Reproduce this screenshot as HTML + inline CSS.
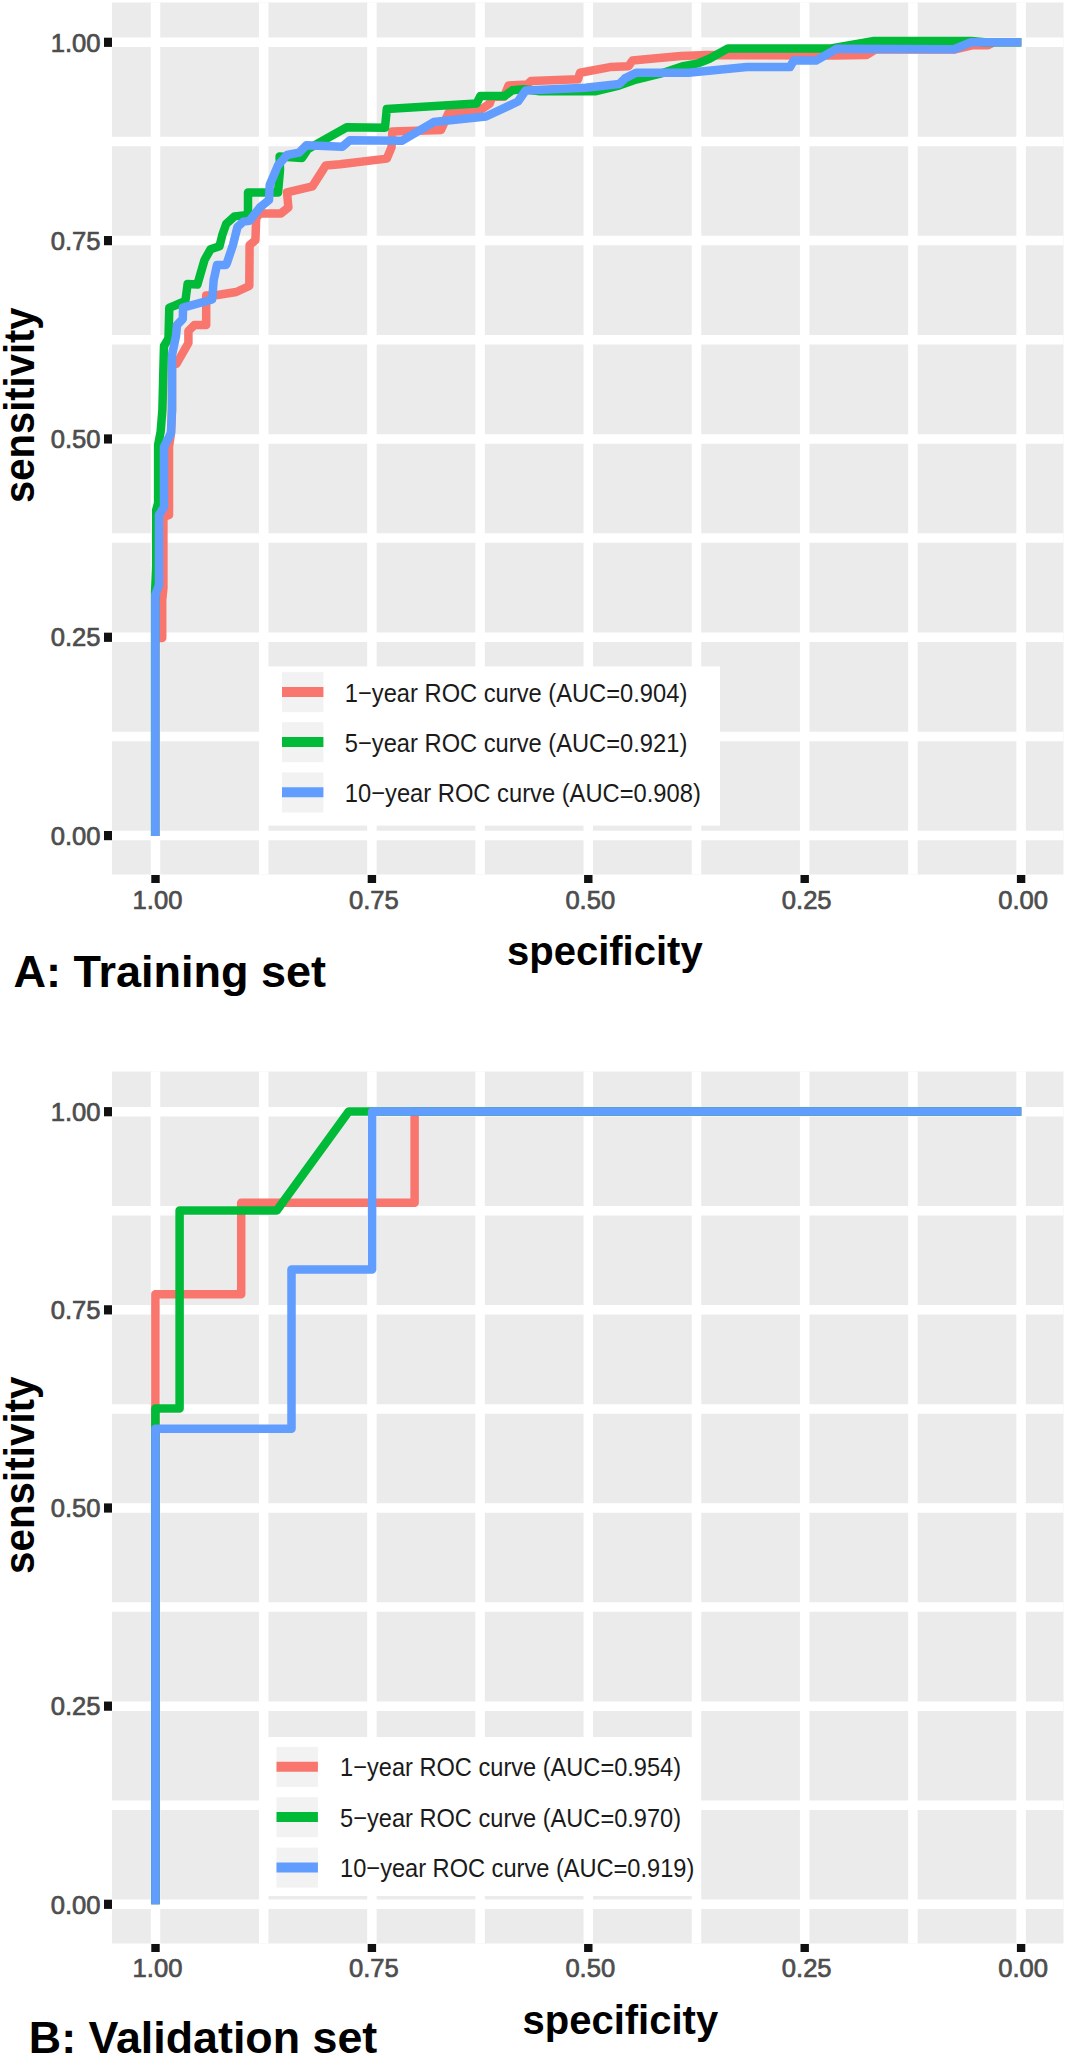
<!DOCTYPE html>
<html lang="en"><head><meta charset="utf-8"><title>ROC curves</title>
<style>
html,body{margin:0;padding:0;background:#fff;}
body{width:1068px;height:2056px;overflow:hidden;}
svg{display:block;}
text{font-family:"Liberation Sans",Arial,Helvetica,sans-serif;}
.tk{font-size:25.6px;fill:#4D4D4D;stroke:#4D4D4D;stroke-width:0.7px;}
.ax{font-size:40px;font-weight:bold;fill:#000;}
.ttl{font-size:45px;font-weight:bold;fill:#000;}
.lg{font-size:26px;fill:#1a1a1a;}
</style></head><body>
<svg width="1068" height="2056" viewBox="0 0 1068 2056">
<rect width="1068" height="2056" fill="#fff"/>
<rect x="112" y="2.5" width="951.5" height="872.0" fill="#EBEBEB"/>
<line x1="1021.10" x2="1021.10" y1="2.5" y2="874.5" stroke="#fff" stroke-width="9.5"/>
<line x1="112" x2="1063.5" y1="835.60" y2="835.60" stroke="#fff" stroke-width="9.5"/>
<line x1="912.90" x2="912.90" y1="2.5" y2="874.5" stroke="#fff" stroke-width="9.5"/>
<line x1="112" x2="1063.5" y1="736.44" y2="736.44" stroke="#fff" stroke-width="9.5"/>
<line x1="804.70" x2="804.70" y1="2.5" y2="874.5" stroke="#fff" stroke-width="9.5"/>
<line x1="112" x2="1063.5" y1="637.27" y2="637.27" stroke="#fff" stroke-width="9.5"/>
<line x1="696.50" x2="696.50" y1="2.5" y2="874.5" stroke="#fff" stroke-width="9.5"/>
<line x1="112" x2="1063.5" y1="538.11" y2="538.11" stroke="#fff" stroke-width="9.5"/>
<line x1="588.30" x2="588.30" y1="2.5" y2="874.5" stroke="#fff" stroke-width="9.5"/>
<line x1="112" x2="1063.5" y1="438.95" y2="438.95" stroke="#fff" stroke-width="9.5"/>
<line x1="480.10" x2="480.10" y1="2.5" y2="874.5" stroke="#fff" stroke-width="9.5"/>
<line x1="112" x2="1063.5" y1="339.79" y2="339.79" stroke="#fff" stroke-width="9.5"/>
<line x1="371.90" x2="371.90" y1="2.5" y2="874.5" stroke="#fff" stroke-width="9.5"/>
<line x1="112" x2="1063.5" y1="240.62" y2="240.62" stroke="#fff" stroke-width="9.5"/>
<line x1="263.70" x2="263.70" y1="2.5" y2="874.5" stroke="#fff" stroke-width="9.5"/>
<line x1="112" x2="1063.5" y1="141.46" y2="141.46" stroke="#fff" stroke-width="9.5"/>
<line x1="155.50" x2="155.50" y1="2.5" y2="874.5" stroke="#fff" stroke-width="9.5"/>
<line x1="112" x2="1063.5" y1="42.30" y2="42.30" stroke="#fff" stroke-width="9.5"/>
<rect x="112" y="1071.5" width="951.5" height="872.0" fill="#EBEBEB"/>
<line x1="1021.10" x2="1021.10" y1="1071.5" y2="1943.5" stroke="#fff" stroke-width="9.5"/>
<line x1="112" x2="1063.5" y1="1904.30" y2="1904.30" stroke="#fff" stroke-width="9.5"/>
<line x1="912.90" x2="912.90" y1="1071.5" y2="1943.5" stroke="#fff" stroke-width="9.5"/>
<line x1="112" x2="1063.5" y1="1805.22" y2="1805.22" stroke="#fff" stroke-width="9.5"/>
<line x1="804.70" x2="804.70" y1="1071.5" y2="1943.5" stroke="#fff" stroke-width="9.5"/>
<line x1="112" x2="1063.5" y1="1706.15" y2="1706.15" stroke="#fff" stroke-width="9.5"/>
<line x1="696.50" x2="696.50" y1="1071.5" y2="1943.5" stroke="#fff" stroke-width="9.5"/>
<line x1="112" x2="1063.5" y1="1607.08" y2="1607.08" stroke="#fff" stroke-width="9.5"/>
<line x1="588.30" x2="588.30" y1="1071.5" y2="1943.5" stroke="#fff" stroke-width="9.5"/>
<line x1="112" x2="1063.5" y1="1508.00" y2="1508.00" stroke="#fff" stroke-width="9.5"/>
<line x1="480.10" x2="480.10" y1="1071.5" y2="1943.5" stroke="#fff" stroke-width="9.5"/>
<line x1="112" x2="1063.5" y1="1408.92" y2="1408.92" stroke="#fff" stroke-width="9.5"/>
<line x1="371.90" x2="371.90" y1="1071.5" y2="1943.5" stroke="#fff" stroke-width="9.5"/>
<line x1="112" x2="1063.5" y1="1309.85" y2="1309.85" stroke="#fff" stroke-width="9.5"/>
<line x1="263.70" x2="263.70" y1="1071.5" y2="1943.5" stroke="#fff" stroke-width="9.5"/>
<line x1="112" x2="1063.5" y1="1210.78" y2="1210.78" stroke="#fff" stroke-width="9.5"/>
<line x1="155.50" x2="155.50" y1="1071.5" y2="1943.5" stroke="#fff" stroke-width="9.5"/>
<line x1="112" x2="1063.5" y1="1111.70" y2="1111.70" stroke="#fff" stroke-width="9.5"/>
<rect x="104" y="831.00" width="8" height="9.2" fill="#111"/>
<text class="tk" x="100.5" y="844.80" text-anchor="end">0.00</text>
<rect x="1016.90" y="875.0" width="8.4" height="8" fill="#111"/>
<text class="tk" x="1023.10" y="908.7" text-anchor="middle">0.00</text>
<rect x="104" y="632.67" width="8" height="9.2" fill="#111"/>
<text class="tk" x="100.5" y="646.48" text-anchor="end">0.25</text>
<rect x="800.50" y="875.0" width="8.4" height="8" fill="#111"/>
<text class="tk" x="806.70" y="908.7" text-anchor="middle">0.25</text>
<rect x="104" y="434.35" width="8" height="9.2" fill="#111"/>
<text class="tk" x="100.5" y="448.15" text-anchor="end">0.50</text>
<rect x="584.10" y="875.0" width="8.4" height="8" fill="#111"/>
<text class="tk" x="590.30" y="908.7" text-anchor="middle">0.50</text>
<rect x="104" y="236.03" width="8" height="9.2" fill="#111"/>
<text class="tk" x="100.5" y="249.82" text-anchor="end">0.75</text>
<rect x="367.70" y="875.0" width="8.4" height="8" fill="#111"/>
<text class="tk" x="373.90" y="908.7" text-anchor="middle">0.75</text>
<rect x="104" y="37.70" width="8" height="9.2" fill="#111"/>
<text class="tk" x="100.5" y="51.50" text-anchor="end">1.00</text>
<rect x="151.30" y="875.0" width="8.4" height="8" fill="#111"/>
<text class="tk" x="157.50" y="908.7" text-anchor="middle">1.00</text>
<rect x="104" y="1899.70" width="8" height="9.2" fill="#111"/>
<text class="tk" x="100.5" y="1913.50" text-anchor="end">0.00</text>
<rect x="1016.90" y="1944.0" width="8.4" height="8" fill="#111"/>
<text class="tk" x="1023.10" y="1977.2" text-anchor="middle">0.00</text>
<rect x="104" y="1701.55" width="8" height="9.2" fill="#111"/>
<text class="tk" x="100.5" y="1715.35" text-anchor="end">0.25</text>
<rect x="800.50" y="1944.0" width="8.4" height="8" fill="#111"/>
<text class="tk" x="806.70" y="1977.2" text-anchor="middle">0.25</text>
<rect x="104" y="1503.40" width="8" height="9.2" fill="#111"/>
<text class="tk" x="100.5" y="1517.20" text-anchor="end">0.50</text>
<rect x="584.10" y="1944.0" width="8.4" height="8" fill="#111"/>
<text class="tk" x="590.30" y="1977.2" text-anchor="middle">0.50</text>
<rect x="104" y="1305.25" width="8" height="9.2" fill="#111"/>
<text class="tk" x="100.5" y="1319.05" text-anchor="end">0.75</text>
<rect x="367.70" y="1944.0" width="8.4" height="8" fill="#111"/>
<text class="tk" x="373.90" y="1977.2" text-anchor="middle">0.75</text>
<rect x="104" y="1107.10" width="8" height="9.2" fill="#111"/>
<text class="tk" x="100.5" y="1120.90" text-anchor="end">1.00</text>
<rect x="151.30" y="1944.0" width="8.4" height="8" fill="#111"/>
<text class="tk" x="157.50" y="1977.2" text-anchor="middle">1.00</text>
<polyline points="155.3,836.0 155.3,638.0 162.2,638.0 162.2,600.0 163.4,588.0 163.4,517.0 169.0,515.0 169.0,447.0 171.0,433.0 172.0,410.0 172.0,364.0 176.4,364.0 188.4,343.0 188.4,331.0 194.4,325.0 206.2,325.0 206.2,295.6 217.5,295.0 236.2,292.0 249.3,286.0 249.6,245.0 255.4,240.3 256.2,218.0 260.0,213.4 281.0,213.4 288.4,207.4 287.0,192.4 312.4,186.4 325.8,165.4 340.0,164.2 386.8,158.6 391.5,147.4 392.4,131.5 441.0,130.0 448.6,112.7 480.4,110.0 489.8,103.4 492.0,96.8 504.0,96.8 508.5,85.6 527.3,84.6 531.0,80.9 578.0,79.3 580.0,72.7 610.0,67.1 628.6,66.2 632.4,60.6 651.0,58.7 681.0,55.9 707.3,55.0 835.0,55.5 866.7,55.0 875.0,49.6 954.0,49.6 972.0,45.3 988.0,45.3 994.0,42.3 1021.3,42.3" fill="none" stroke="#F8766D" stroke-width="8.5" stroke-linejoin="round" stroke-linecap="butt"/>
<polyline points="155.1,836.0 155.1,592.0 156.2,566.0 156.2,510.0 158.1,503.0 158.1,445.0 160.6,432.0 162.4,410.0 163.2,377.0 164.0,346.0 168.5,338.4 169.3,307.7 175.0,305.5 185.4,301.0 187.6,284.0 197.4,284.5 204.5,260.0 210.5,249.3 219.5,246.3 222.5,234.3 226.2,223.9 234.5,216.4 248.0,214.9 248.0,192.4 278.0,192.4 280.0,170.0 279.6,156.5 302.0,158.0 308.0,149.0 346.8,127.2 385.0,127.7 386.8,109.0 476.7,103.4 480.4,95.9 504.8,95.9 512.3,90.3 523.5,89.3 540.0,91.2 596.0,91.2 619.0,85.6 636.0,79.6 660.4,73.7 682.0,66.5 698.0,63.4 709.4,58.7 728.0,48.4 831.0,48.4 874.0,40.9 971.0,40.9 985.0,42.3 1021.3,42.3" fill="none" stroke="#00BA38" stroke-width="8.5" stroke-linejoin="round" stroke-linecap="butt"/>
<polyline points="155.3,836.0 155.3,595.0 159.0,585.0 159.0,515.0 164.0,507.0 164.0,447.0 171.0,433.0 172.0,410.0 172.0,355.0 176.0,336.0 177.0,325.0 182.8,319.0 183.0,307.7 212.2,299.5 213.7,280.0 217.0,265.0 226.0,265.0 227.0,262.8 233.0,244.8 237.5,226.9 243.4,221.6 249.4,220.9 260.0,207.4 269.0,200.0 269.7,185.0 278.0,165.4 287.0,155.0 299.0,152.7 306.4,145.2 342.3,146.7 349.8,140.3 401.8,140.8 433.6,122.1 486.0,116.5 518.0,101.5 525.6,90.5 585.5,87.7 619.3,84.0 624.9,78.4 636.1,72.7 688.5,72.7 746.8,67.1 790.0,67.1 793.6,60.6 816.0,60.6 836.7,48.8 954.0,49.2 971.0,42.3 1021.3,42.3" fill="none" stroke="#619CFF" stroke-width="8.5" stroke-linejoin="round" stroke-linecap="butt"/>
<polyline points="155.4,1904.3 155.4,1294.3 241.2,1294.3 241.2,1202.7 414.6,1202.7 414.6,1111.5 1021.3,1111.5" fill="none" stroke="#F8766D" stroke-width="8.5" stroke-linejoin="round" stroke-linecap="butt"/>
<polyline points="155.4,1904.3 155.4,1408.5 179.6,1408.5 179.6,1210.6 276.8,1210.6 348.7,1111.5 1021.3,1111.5" fill="none" stroke="#00BA38" stroke-width="8.5" stroke-linejoin="round" stroke-linecap="butt"/>
<polyline points="155.4,1904.3 155.4,1428.8 291.5,1428.8 291.5,1269.4 372.1,1269.4 372.1,1111.5 1021.3,1111.5" fill="none" stroke="#619CFF" stroke-width="8.5" stroke-linejoin="round" stroke-linecap="butt"/>
<rect x="267.6" y="666.4" width="452.4" height="159.20000000000005" fill="#fff"/>
<rect x="282" y="672.2" width="41.4" height="40" fill="#F2F2F2"/>
<line x1="282" x2="323.4" y1="692.0" y2="692.0" stroke="#F8766D" stroke-width="10"/>
<text class="lg" x="344.8" y="701.5" textLength="342.5" lengthAdjust="spacingAndGlyphs">1−year ROC curve (AUC=0.904)</text>
<rect x="282" y="722.2" width="41.4" height="40" fill="#F2F2F2"/>
<line x1="282" x2="323.4" y1="742.0" y2="742.0" stroke="#00BA38" stroke-width="10"/>
<text class="lg" x="344.8" y="751.7" textLength="342.5" lengthAdjust="spacingAndGlyphs">5−year ROC curve (AUC=0.921)</text>
<rect x="282" y="772.5" width="41.4" height="40" fill="#F2F2F2"/>
<line x1="282" x2="323.4" y1="792.3" y2="792.3" stroke="#619CFF" stroke-width="10"/>
<text class="lg" x="344.8" y="802" textLength="356" lengthAdjust="spacingAndGlyphs">10−year ROC curve (AUC=0.908)</text>
<rect x="262" y="1737" width="438.5" height="159" fill="#fff"/>
<rect x="276.5" y="1746.9" width="41.4" height="40" fill="#F2F2F2"/>
<line x1="276.5" x2="317.9" y1="1766.7" y2="1766.7" stroke="#F8766D" stroke-width="10"/>
<text class="lg" x="340.1" y="1776.2" textLength="341" lengthAdjust="spacingAndGlyphs">1−year ROC curve (AUC=0.954)</text>
<rect x="276.5" y="1797.2" width="41.4" height="40" fill="#F2F2F2"/>
<line x1="276.5" x2="317.9" y1="1817.0" y2="1817.0" stroke="#00BA38" stroke-width="10"/>
<text class="lg" x="340.1" y="1826.5" textLength="341" lengthAdjust="spacingAndGlyphs">5−year ROC curve (AUC=0.970)</text>
<rect x="276.5" y="1847.6" width="41.4" height="40" fill="#F2F2F2"/>
<line x1="276.5" x2="317.9" y1="1867.3999999999999" y2="1867.3999999999999" stroke="#619CFF" stroke-width="10"/>
<text class="lg" x="340.1" y="1876.8" textLength="354.2" lengthAdjust="spacingAndGlyphs">10−year ROC curve (AUC=0.919)</text>
<text class="ax" x="507" y="964.5">specificity</text>
<text class="ax" x="522.5" y="2033.5">specificity</text>
<text class="ax" transform="translate(33.8,503) rotate(-90) scale(1,1.06)">sensitivity</text>
<text class="ax" transform="translate(33.8,1574) rotate(-90) scale(1,1.06)" style="font-size:40.4px">sensitivity</text>
<text class="ttl" x="13.5" y="987">A: Training set</text>
<text class="ttl" x="28.8" y="2052.5" style="font-size:44.8px">B: Validation set</text>
</svg>
</body></html>
